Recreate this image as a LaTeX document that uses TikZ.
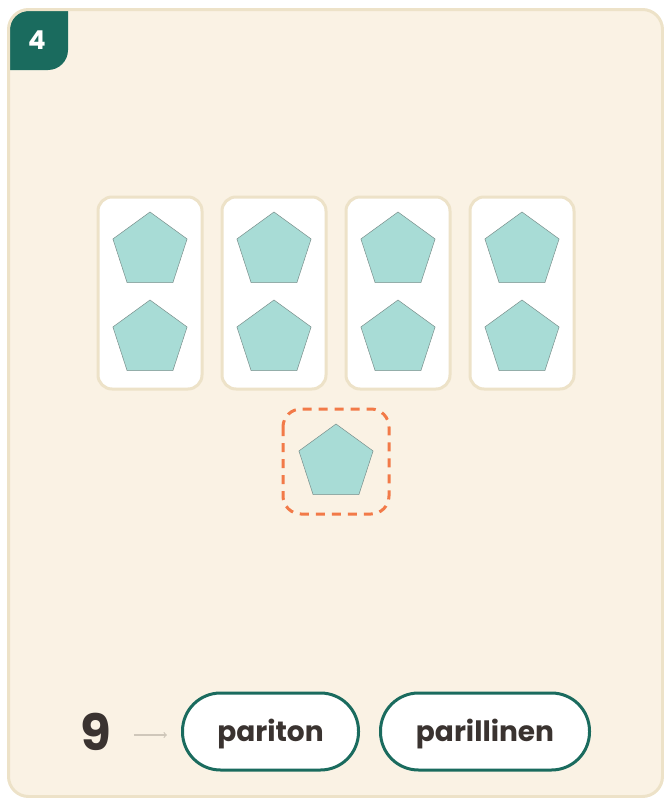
\documentclass[tikz,border=0pt]{standalone}
\usepackage{fontspec}
\setmainfont{Poppins}
\usetikzlibrary{shapes.geometric}

\definecolor{cardbg}{HTML}{FAF2E4}
\definecolor{cardline}{HTML}{EDE2C8}
\definecolor{teal}{HTML}{1A6B5E}
\definecolor{penta}{HTML}{A8DCD6}
\definecolor{pentaline}{HTML}{7A8F8C}
\definecolor{dashorange}{HTML}{F27A48}
\definecolor{ink}{HTML}{3A3330}
\definecolor{arrowgrey}{HTML}{CFC7BA}

\begin{document}
\begin{tikzpicture}[
    x=1pt, y=-1pt,
    pair/.style={draw=cardline, line width=3pt, fill=white, rounded corners=14pt,
                 minimum width=104pt, minimum height=192pt, inner sep=0pt},
    pent/.style={regular polygon, regular polygon sides=5, draw=pentaline, line width=0.5pt,
                 fill=penta, minimum size=78pt, inner sep=0pt},
    pill/.style={draw=teal, line width=3pt, fill=white, rounded corners=38pt,
                 minimum height=77pt, inner sep=0pt, font=\fontsize{28}{30}\selectfont\bfseries, text=ink}
]

\useasboundingbox (0,0) rectangle (664,798);

% card
\fill[cardbg, rounded corners=20pt] (8.5,9.5) rectangle (662.5,796.5);

% badge
\begin{scope}
    \clip[rounded corners=18pt] (10,11) rectangle (661,795);
    \fill[teal, rounded corners=20pt] (-30,-30) rectangle (68,70);
\end{scope}
\node[text=white, font=\fontsize{26}{28}\selectfont\bfseries] (num) at (37,40) {4};
\draw[cardline, line width=3pt, rounded corners=20pt] (8.5,9.5) rectangle (662.5,796.5);

% pairs
\foreach \i/\cx in {1/150, 2/274, 3/398, 4/522} {
    \node[pair] (pair\i) at (\cx,293) {};
    \node[pent] (top\i) at (\cx,251) {};
    \node[pent] (bot\i) at (\cx,339) {};
}

% the odd one
\draw[dashorange, line width=3pt, dash pattern=on 9pt off 7pt, rounded corners=18pt] (283,409) rectangle (389,514);
\node[pent] (odd) at (336,463) {};

% answer
\node[text=ink, font=\fontsize{50}{52}\selectfont\bfseries] (nine) at (96,732) {9};
\node[pill, minimum width=176pt] (pariton) at (270.5,731.5) {\raisebox{-10pt}[0pt][0pt]{pariton}};
\node[pill, minimum width=209pt] (parillinen) at (485,731.5) {\raisebox{-10pt}[0pt][0pt]{parillinen}};
\draw[arrowgrey, line width=1.2pt, -to] (nine.east) ++(19,3) coordinate (a) -- ++(33,0) coordinate (b);

\end{tikzpicture}
\end{document}
